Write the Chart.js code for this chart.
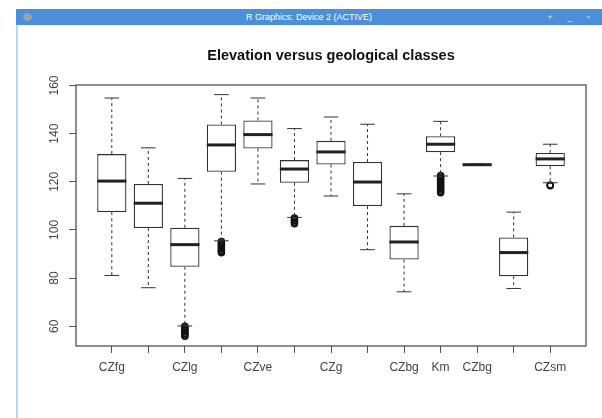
<!DOCTYPE html>
<html>
<head>
<meta charset="utf-8">
<script src="https://cdn.jsdelivr.net/npm/chart.js@4"></script>
<style>
  body { margin: 0; background: #fff; width: 602px; height: 418px; overflow: hidden; position: relative; font-family: "Liberation Sans", Arial, sans-serif; }
  #myChart { position: absolute; left: 0; top: 0; }
  #titlebar { position: absolute; left: 16px; top: 9px; width: 586px; height: 16px; background: #4a8fd8; color: #fff; font-size: 9px; line-height: 16px; text-align: center; }
  #titlebar .dot { position: absolute; left: 7px; top: 4px; width: 9px; height: 8px; border-radius: 50%; background: #9aa3ad; }
  #titlebar .btns { position: absolute; right: 6px; top: 0; font-size: 9px; letter-spacing: 6px; color: #dfe9f5; }
  #edge { position: absolute; left: 16px; top: 25px; width: 2px; height: 393px; background: #b9d2ee; }
</style>
</head>
<body>
<div id="titlebar"><span class="dot"></span>R Graphics: Device 2 (ACTIVE)<span class="btns">+ _ ▫</span></div>
<div id="edge"></div>
<canvas id="myChart" width="602" height="418"></canvas>
<script>
// boxplot data
var categories = ["CZfg", "", "CZlg", "", "CZve", "", "CZg", "", "CZbg", "Km", "CZbg", "", "CZsm"];
var lowerWhisker = [81.1, 76.0, 60.1, 95.5, 119.1, 105.2, 114.1, 91.8, 74.3, 122.4, 126.8, 75.7, 119.6];
var q1Values = [107.4, 100.8, 84.7, 124.2, 133.8, 119.6, 127.2, 109.9, 87.7, 132.3, 126.95, 80.8, 126.5];
var medianValues = [120.3, 111.1, 93.9, 135.3, 139.6, 125.3, 132.4, 119.9, 95.0, 135.6, 127.1, 90.6, 129.5];
var q3Values = [131.5, 119.1, 100.9, 143.8, 145.5, 129.0, 137.0, 128.2, 101.7, 138.9, 127.25, 96.9, 132.0];
var upperWhisker = [154.8, 134.1, 121.4, 156.2, 154.8, 142.1, 146.9, 143.9, 115.0, 145.1, 127.4, 107.4, 135.6];
var outliers = [
    [], [],
    [60.0, 59.4, 58.8, 58.2, 57.6, 57.0, 56.4, 55.8],
    [95.2, 94.6, 94.0, 93.4, 92.8, 92.2, 91.6, 91.0, 90.5],
    [],
    [105.0, 104.4, 103.8, 103.2, 102.6],
    [], [], [],
    [122.6, 122.0, 121.4, 120.8, 120.2, 119.6, 119.0, 118.4, 117.8, 117.2, 116.6, 116.0, 115.4],
    [], [],
    [118.7, 118.4]
];
var yTicks = [60, 80, 100, 120, 140, 160];

var boxData = categories.map(function (c, i) {
    return { x: i + 1, y: [q1Values[i], q3Values[i]] };
});
var outlierData = [];
outliers.forEach(function (list, i) {
    list.forEach(function (v) { outlierData.push({ x: i + 1, y: v }); });
});

var ink = "#333";

// whiskers, staples and medians
var boxExtras = {
    id: "boxExtras",
    afterDatasetsDraw: function (chart) {
        var ctx = chart.ctx;
        var xs = chart.scales.x, ys = chart.scales.y;
        var bars = chart.getDatasetMeta(0).data;
        ctx.save();
        categories.forEach(function (c, i) {
            var px = xs.getPixelForValue(i + 1);
            var w = bars[i].width;
            ctx.strokeStyle = ink;
            ctx.lineWidth = 1;
            ctx.setLineDash([3, 3]);
            ctx.beginPath();
            ctx.moveTo(px, ys.getPixelForValue(q3Values[i]));
            ctx.lineTo(px, ys.getPixelForValue(upperWhisker[i]));
            ctx.moveTo(px, ys.getPixelForValue(q1Values[i]));
            ctx.lineTo(px, ys.getPixelForValue(lowerWhisker[i]));
            ctx.stroke();
            ctx.setLineDash([]);
            ctx.beginPath();
            ctx.moveTo(px - w / 4, ys.getPixelForValue(upperWhisker[i]));
            ctx.lineTo(px + w / 4, ys.getPixelForValue(upperWhisker[i]));
            ctx.moveTo(px - w / 4, ys.getPixelForValue(lowerWhisker[i]));
            ctx.lineTo(px + w / 4, ys.getPixelForValue(lowerWhisker[i]));
            ctx.stroke();
            ctx.lineWidth = 3;
            ctx.strokeStyle = "#222";
            ctx.beginPath();
            ctx.moveTo(px - w / 2, ys.getPixelForValue(medianValues[i]));
            ctx.lineTo(px + w / 2, ys.getPixelForValue(medianValues[i]));
            ctx.stroke();
        });
        ctx.restore();
    },
    afterDraw: function (chart) {
        var ctx = chart.ctx;
        var a = chart.chartArea;
        var ys = chart.scales.y;
        ctx.save();
        // frame
        ctx.strokeStyle = "#444";
        ctx.lineWidth = 1.2;
        ctx.strokeRect(a.left, a.top, a.right - a.left, a.bottom - a.top);
        // title
        ctx.fillStyle = "#111";
        ctx.font = "bold 14.5px 'Liberation Sans', Arial, sans-serif";
        ctx.textAlign = "center";
        ctx.textBaseline = "middle";
        ctx.fillText("Elevation versus geological classes", (a.left + a.right) / 2, 56);
        // rotated y labels like R
        ctx.fillStyle = "#444";
        ctx.font = "12px 'Liberation Sans', Arial, sans-serif";
        ys.ticks.forEach(function (t) {
            ctx.save();
            ctx.translate(55, ys.getPixelForValue(t.value));
            ctx.rotate(-Math.PI / 2);
            ctx.fillText(String(t.value), 0, 0);
            ctx.restore();
        });
        ctx.restore();
    }
};

new Chart("myChart", {
    type: "bar",
    data: {
        datasets: [{
            data: boxData,
            backgroundColor: "#fff",
            borderColor: ink,
            borderWidth: 1.3,
            borderSkipped: false,
            barPercentage: 0.8,
            categoryPercentage: 1
        }, {
            type: "scatter",
            data: outlierData,
            pointStyle: "circle",
            pointRadius: 3,
            pointBorderWidth: 1.5,
            pointBorderColor: "#111",
            pointBackgroundColor: "rgba(0,0,0,0)"
        }]
    },
    options: {
        responsive: false,
        animation: false,
        devicePixelRatio: 1,
        layout: { padding: { top: 85, left: 0, right: 16, bottom: 42 } },
        plugins: { legend: { display: false }, tooltip: { enabled: false } },
        scales: {
            x: {
                type: "linear",
                min: 0.02,
                max: 13.98,
                offset: false,
                afterBuildTicks: function (scale) {
                    scale.ticks = categories.map(function (c, i) { return { value: i + 1 }; });
                },
                afterFit: function (scale) { scale.height = 30; },
                grid: { display: true, offset: false, drawOnChartArea: false, drawTicks: true, tickLength: 7, color: "#555" },
                border: { display: false },
                ticks: {
                    autoSkip: false,
                    maxRotation: 0,
                    padding: 7,
                    color: "#444",
                    font: { family: "'Liberation Sans', Arial, sans-serif", size: 12 },
                    callback: function (v) { return categories[v - 1]; }
                }
            },
            y: {
                min: 51.8,
                max: 160.2,
                afterBuildTicks: function (scale) {
                    scale.ticks = yTicks.map(function (v) { return { value: v }; });
                },
                afterFit: function (scale) { scale.width = 76; },
                grid: { display: true, drawOnChartArea: false, drawTicks: true, tickLength: 7, color: "#555" },
                border: { display: false },
                ticks: { display: false }
            }
        }
    },
    plugins: [boxExtras]
});
</script>
</body>
</html>
